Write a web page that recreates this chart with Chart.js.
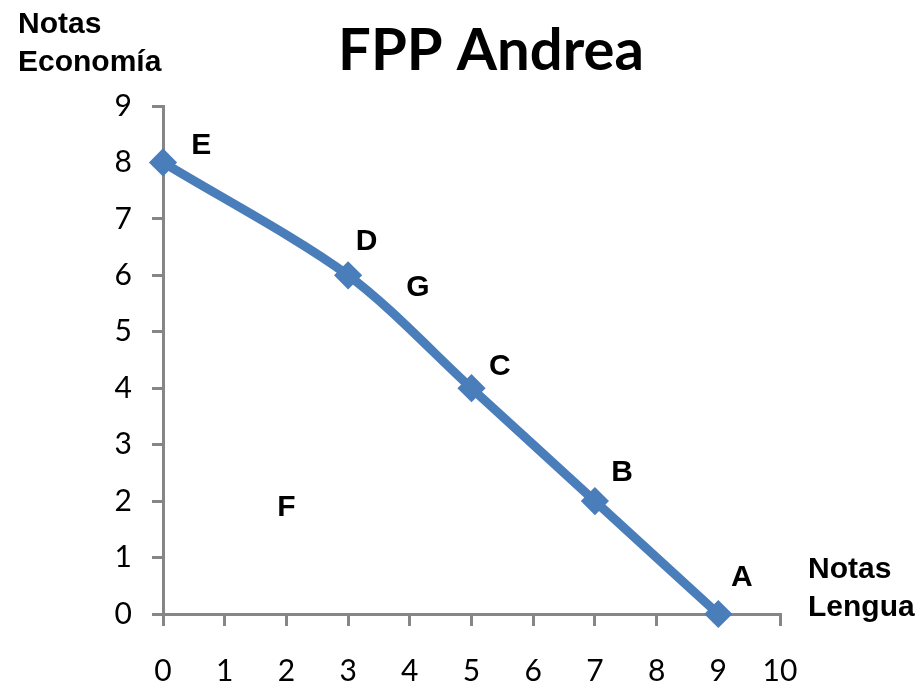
<!DOCTYPE html>
<html>
<head>
<meta charset="utf-8">
<script src="https://cdn.jsdelivr.net/npm/chart.js@4"></script>
<style>
  html, body { margin: 0; padding: 0; background: #fff; }
  #wrap { width: 919px; height: 686px; }
</style>
</head>
<body>
<div id="wrap"><canvas id="fppChart" width="919" height="686"></canvas></div>
<script>
// FPP points, ordered E -> A
const lengua = [0, 3, 5, 7, 9];
const economia = [8, 6, 4, 2, 0];

// letter labels placed near the points (data coordinates)
const pointNames = ["E", "D", "G", "C", "B", "A", "F"];
const pointNameX = [0.62, 3.3, 4.13, 5.46, 7.44, 9.38, 2.0];
const pointNameY = [8.3, 6.6, 5.78, 4.38, 2.5, 0.64, 1.88];

const chartTitle = "FPP Andrea";
const yTitle = ["Notas", "Economía"];
const xTitle = ["Notas", "Lengua"];

const axisGray = "#868686";
const lineBlue = "#4a7ebb";

// draws title, axis titles and point letters
const textPlugin = {
  id: "textPlugin",
  afterDraw(chart) {
    const ctx = chart.ctx;
    const xs = chart.scales.x;
    const ys = chart.scales.y;
    ctx.save();
    ctx.fillStyle = "#000";
    ctx.textBaseline = "alphabetic";

    ctx.font = "bold 58px Lato";
    ctx.textAlign = "center";
    ctx.fillText(chartTitle, 491, 70);

    ctx.font = "bold 30px 'Liberation Sans'";
    ctx.textAlign = "left";
    ctx.fillText(yTitle[0], 18, 33);
    ctx.fillText(yTitle[1], 18, 71);
    ctx.fillText(xTitle[0], 808, 578);
    ctx.fillText(xTitle[1], 808, 616);

    ctx.textAlign = "center";
    ctx.textBaseline = "middle";
    pointNames.forEach((n, i) => {
      ctx.fillText(n, xs.getPixelForValue(pointNameX[i]), ys.getPixelForValue(pointNameY[i]));
    });
    ctx.restore();
  }
};

new Chart(document.getElementById("fppChart"), {
  type: "scatter",
  data: {
    datasets: [{
      data: lengua.map((x, i) => ({ x: x, y: economia[i] })),
      showLine: true,
      borderColor: lineBlue,
      backgroundColor: lineBlue,
      borderWidth: 9,
      tension: 0.3,
      pointStyle: "rectRot",
      pointRadius: 12,
      pointHoverRadius: 12,
      pointBorderWidth: 3,
      clip: false
    }]
  },
  options: {
    responsive: false,
    animation: false,
    layout: { padding: { top: 106, right: 139, left: 0, bottom: 0 } },
    plugins: {
      legend: { display: false },
      tooltip: { enabled: false }
    },
    scales: {
      x: {
        type: "linear",
        min: 0,
        max: 10,
        afterFit(scale) { scale.height = 72; },
        grid: { drawOnChartArea: false, drawTicks: true, tickLength: 12, color: axisGray, lineWidth: 3 },
        border: { display: true, color: axisGray, width: 3 },
        ticks: { stepSize: 1, color: "#000", font: { family: "Lato", size: 30 }, padding: 27, maxRotation: 0 }
      },
      y: {
        type: "linear",
        min: 0,
        max: 9,
        afterFit(scale) { scale.width = 163; },
        grid: { drawOnChartArea: false, drawTicks: true, tickLength: 11, color: axisGray, lineWidth: 3 },
        border: { display: true, color: axisGray, width: 3 },
        ticks: { stepSize: 1, color: "#000", font: { family: "Lato", size: 30 }, padding: 20 }
      }
    }
  },
  plugins: [textPlugin]
});
</script>
</body>
</html>
